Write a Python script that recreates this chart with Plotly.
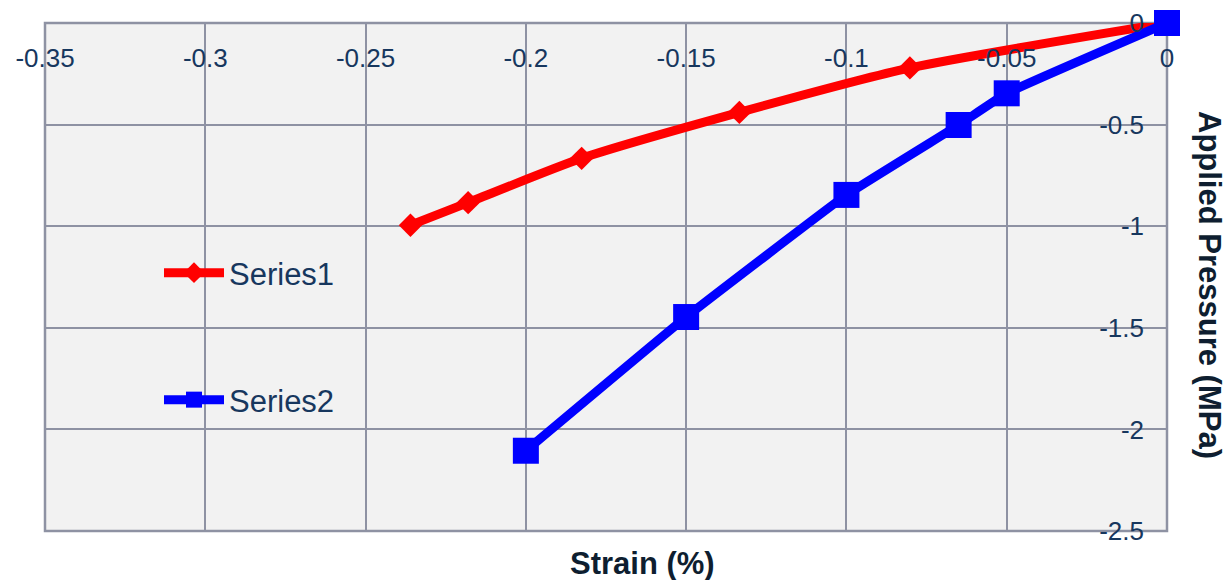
import plotly.graph_objects as go

# Data
series1_x = [-0.236, -0.218, -0.1826, -0.1334, -0.0802, 0.0]
series1_y = [-0.995, -0.884, -0.666, -0.440, -0.221, 0.0]
series2_x = [-0.200, -0.150, -0.100, -0.065, -0.050, 0.0]
series2_y = [-2.105, -1.447, -0.846, -0.502, -0.346, 0.0]

x_tickvals = [-0.35, -0.3, -0.25, -0.2, -0.15, -0.1, -0.05, 0]
x_ticktext = ["-0.35", "-0.3", "-0.25", "-0.2", "-0.15", "-0.1", "-0.05", "0"]
y_tickvals = [0, -0.5, -1, -1.5, -2, -2.5]
y_ticktext = ["0", "-0.5", "-1", "-1.5", "-2", "-2.5"]

FONT = "Liberation Sans, Arial, sans-serif"
LABEL_COLOR = "#17375E"
TITLE_COLOR = "#0E1E30"
GRID = "#8E92A3"

fig = go.Figure()
fig.add_trace(go.Scatter(
    x=series1_x, y=series1_y, name="Series1", mode="lines+markers",
    line=dict(color="#FF0000", width=9, shape="spline", smoothing=0.6),
    marker=dict(symbol="diamond", size=18, color="#FF0000"),
    legend="legend", cliponaxis=False,
))
fig.add_trace(go.Scatter(
    x=series2_x, y=series2_y, name="Series2", mode="lines+markers",
    line=dict(color="#0000FF", width=9, shape="spline", smoothing=0.3),
    marker=dict(symbol="square", size=26, color="#0000FF"),
    legend="legend2", cliponaxis=False,
))

left, right, top, bottom = 45, 61, 23, 49
W, H = 1228, 580
pw = W - left - right
ph = H - top - bottom


def px_x(p):
    return (p - left) / pw


def px_y(p):
    return 1 - (p - top) / ph


legend_common = dict(
    xanchor="left", yanchor="middle", bgcolor="rgba(0,0,0,0)",
    font=dict(size=31, color=LABEL_COLOR, family=FONT), itemwidth=60,
    visible=True,
)

fig.update_layout(
    width=W, height=H,
    margin=dict(l=left, r=right, t=top, b=bottom, autoexpand=False),
    paper_bgcolor="white",
    plot_bgcolor="#F2F2F2",
    font=dict(family=FONT, color=LABEL_COLOR),
    showlegend=True,
    legend=dict(x=px_x(159), y=px_y(273), **legend_common),
    legend2=dict(x=px_x(159), y=px_y(400), **legend_common),
    xaxis=dict(
        range=[-0.35, 0], side="bottom", anchor="free", position=px_y(40),
        tickvals=x_tickvals, ticktext=x_ticktext,
        tickfont=dict(size=26, color=LABEL_COLOR, family=FONT),
        showgrid=True, gridcolor=GRID, gridwidth=2,
        showline=False, zeroline=False, ticks="", automargin=False,
    ),
    yaxis=dict(
        range=[-2.5, 0], side="left", anchor="free", position=px_x(1144),
        tickvals=y_tickvals, ticktext=y_ticktext,
        tickfont=dict(size=26, color=LABEL_COLOR, family=FONT),
        showgrid=True, gridcolor=GRID, gridwidth=2,
        showline=False, zeroline=False, ticks="", automargin=False,
    ),
    shapes=[
        dict(type="rect", xref="paper", yref="paper", x0=0, x1=1, y0=0, y1=1,
             line=dict(color=GRID, width=2.5), fillcolor="rgba(0,0,0,0)",
             layer="below"),
    ],
    annotations=[
        dict(text="<b>Strain (%)</b>", xref="paper", yref="paper",
             x=px_x(642.5), y=px_y(563), xanchor="center", yanchor="middle",
             showarrow=False, font=dict(size=31, color=TITLE_COLOR, family=FONT)),
        dict(text="<b>Applied Pressure (MPa)</b>", xref="paper", yref="paper",
             x=px_x(1210), y=px_y(285), xanchor="center", yanchor="middle",
             textangle=90, showarrow=False,
             font=dict(size=31, color=TITLE_COLOR, family=FONT)),
    ],
)

fig.write_html("out.html", config={"displayModeBar": False},
               post_script="document.body.style.margin='0px';")
